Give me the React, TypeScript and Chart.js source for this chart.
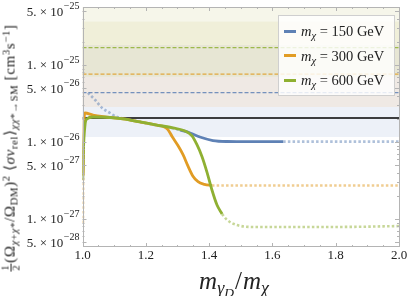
import React, { useEffect, useRef } from "react";
import { Chart, registerables } from "chart.js";
Chart.register(...registerables);

// ---- axis ranges & ticks ----
const X_MIN = 1.0;
const X_MAX = 2.0;
const Y_MIN = 4.33e-28;
const Y_MAX = 5.66e-25;

const xTicks = [1.0, 1.2, 1.4, 1.6, 1.8, 2.0];
const xTickLabels = ["1.0", "1.2", "1.4", "1.6", "1.8", "2.0"];
const xMinorTicks = [1.05, 1.1, 1.15, 1.25, 1.3, 1.35, 1.45, 1.5, 1.55, 1.65, 1.7, 1.75, 1.85, 1.9, 1.95];
const yTicks = [5e-28, 1e-27, 5e-27, 1e-26, 5e-26, 1e-25, 5e-25];
const yTickMantissa = ["5.", "1.", "5.", "1.", "5.", "1.", "5."];
const yTickExponent = ["\u221228", "\u221227", "\u221227", "\u221226", "\u221226", "\u221225", "\u221225"];
const yMinorMultipliers = [2, 3, 4, 6, 7, 8, 9];
const yDecades = [-28, -27, -26, -25];

// ---- bands (value edges, bottom to top) ----
const bandEdges = [1.16e-26, 2.85e-26, 7.0e-26, 1.82e-25, 3.7e-25, Y_MAX];

// ---- horizontal reference levels ----
const blueLevel = 4.37e-26;
const orangeLevel = 7.6e-26;
const greenLevel = 1.68e-25;
const relicLevel = 2.05e-26;

// ---- m_chi = 150 GeV ----
const blueDotStartX = [1.017, 1.04, 1.062, 1.087, 1.109, 1.141, 1.182, 1.229, 1.267, 1.308];
const blueDotStartY = [4.35e-26, 3.51e-26, 2.77e-26, 2.38e-26, 2.11e-26, 1.99e-26, 1.82e-26, 1.66e-26, 1.57e-26, 1.43e-26];
const blueSolidX = [1.308, 1.34, 1.371, 1.412, 1.457, 1.529, 1.634];
const blueSolidY = [1.43e-26, 1.31e-26, 1.16e-26, 1.045e-26, 1.015e-26, 1.01e-26, 1.01e-26];
const blueDotEndX = [1.634, 2.0];
const blueDotEndY = [1.01e-26, 1.01e-26];

// ---- m_chi = 300 GeV ----
const orangeDotStartX = [1.0015, 1.002];
const orangeDotStartY = [8.9e-28, 3.7e-27];
const orangeSolidX = [1.002, 1.004, 1.008, 1.033, 1.077, 1.128, 1.182, 1.235, 1.254, 1.27, 1.283, 1.3, 1.318, 1.333, 1.349, 1.365, 1.385, 1.409];
const orangeSolidY = [3.7e-27, 1.5e-26, 2.38e-26, 2.24e-26, 2.11e-26, 1.99e-26, 1.82e-26, 1.66e-26, 1.6e-26, 1.45e-26, 1.18e-26, 9.2e-27, 6.8e-27, 4.9e-27, 3.6e-27, 3.05e-27, 2.82e-27, 2.72e-27];
const orangeDotEndX = [1.409, 2.0];
const orangeDotEndY = [2.72e-27, 2.72e-27];

// ---- m_chi = 600 GeV ----
const greenSolidX = [1.001, 1.003, 1.008, 1.014, 1.033, 1.087, 1.128, 1.182, 1.235, 1.286, 1.324, 1.346, 1.362, 1.378, 1.393, 1.409, 1.425, 1.441];
const greenSolidY = [3.2e-27, 7.9e-27, 1.66e-26, 1.99e-26, 2.11e-26, 2.08e-26, 1.99e-26, 1.82e-26, 1.66e-26, 1.52e-26, 1.39e-26, 1.2e-26, 9.15e-27, 6.4e-27, 4.1e-27, 2.38e-27, 1.52e-27, 1.16e-27];
const greenDotX = [1.441, 1.457, 1.488, 1.539, 1.687, 1.845, 2.0];
const greenDotY = [1.16e-27, 9.7e-28, 8.36e-28, 7.87e-28, 7.87e-28, 7.9e-28, 8.1e-28];

const legendLabels = ["150", "300", "600"];

// ---- styles ----
const BLUE = "#5E81B5";
const ORANGE = "#E19C24";
const GREEN = "#8FB032";
const BLUE_FAINT = "rgba(94,129,181,0.5)";
const ORANGE_FAINT = "rgba(225,156,36,0.5)";
const GREEN_FAINT = "rgba(143,176,50,0.5)";
const bandColors = ["#edf1f8", "#efe9e4", "#e7e6d4", "#f0efd9", "#f6f6ea"];
const SERIF = '"Liberation Serif", "DejaVu Serif", serif';

const pts = (xs: number[], ys: number[]) => xs.map((x, i) => ({ x, y: ys[i] }));
const flat = (v: number) => [{ x: X_MIN, y: v }, { x: X_MAX, y: v }];

const bandsPlugin = {
  id: "bands",
  beforeDatasetsDraw(chart: any) {
    const { ctx, chartArea: a, scales } = chart;
    const y = scales.y;
    ctx.save();
    for (let i = 0; i < bandEdges.length - 1; i++) {
      const top = Math.max(y.getPixelForValue(bandEdges[i + 1]), a.top);
      const bot = Math.min(y.getPixelForValue(bandEdges[i]), a.bottom);
      ctx.fillStyle = bandColors[i];
      ctx.fillRect(a.left, top, a.right - a.left, bot - top);
    }
    ctx.restore();
  },
};

const framePlugin = {
  id: "frame",
  afterDatasetsDraw(chart: any) {
    const { ctx, chartArea: a, scales } = chart;
    const xs = scales.x;
    const ys = scales.y;
    ctx.save();
    ctx.strokeStyle = "#b4b4b4";
    ctx.lineWidth = 1;
    ctx.strokeRect(Math.round(a.left) + 0.5, Math.round(a.top) + 0.5, Math.round(a.right - a.left) - 1, Math.round(a.bottom - a.top) - 1);
    ctx.beginPath();
    const hx = (v: number, len: number) => {
      const px = Math.round(xs.getPixelForValue(v)) + 0.5;
      ctx.moveTo(px, a.bottom);
      ctx.lineTo(px, a.bottom - len);
      ctx.moveTo(px, a.top);
      ctx.lineTo(px, a.top + len);
    };
    xTicks.forEach((v) => hx(v, 4));
    xMinorTicks.forEach((v) => hx(v, 2));
    const vy = (v: number, len: number) => {
      if (v < Y_MIN || v > Y_MAX) return;
      const py = Math.round(ys.getPixelForValue(v)) + 0.5;
      ctx.moveTo(a.left, py);
      ctx.lineTo(a.left + len, py);
      ctx.moveTo(a.right, py);
      ctx.lineTo(a.right - len, py);
    };
    yTicks.forEach((v) => vy(v, 4));
    yDecades.forEach((d) => yMinorMultipliers.forEach((m) => vy(m * Math.pow(10, d), 2)));
    ctx.stroke();
    ctx.restore();
  },
  afterDraw(chart: any) {
    const { ctx, chartArea: a, scales } = chart;
    const xs = scales.x;
    const ys = scales.y;
    ctx.save();
    ctx.fillStyle = "#222";
    ctx.font = `13px ${SERIF}`;
    ctx.textAlign = "center";
    ctx.textBaseline = "middle";
    xTicks.forEach((v, i) => {
      ctx.fillText(xTickLabels[i], xs.getPixelForValue(v), a.bottom + 9);
    });
    yTicks.forEach((v, i) => {
      const py = ys.getPixelForValue(v);
      const right = a.left - 3;
      ctx.font = `10px ${SERIF}`;
      ctx.textAlign = "right";
      ctx.textBaseline = "middle";
      const ew = ctx.measureText(yTickExponent[i]).width;
      ctx.fillText(yTickExponent[i], right, py - 5);
      ctx.font = `13px ${SERIF}`;
      ctx.fillText(`${yTickMantissa[i]} \u00d7 10`, right - ew - 0.5, py + 1);
    });
    ctx.restore();
  },
};

export default function App() {
  const ref = useRef<HTMLCanvasElement | null>(null);
  useEffect(() => {
    if (!ref.current) return;
    const line = (data: any, color: string, width: number, order: number, dash: number[] = [], mono = true) => ({
      data,
      borderColor: color,
      borderWidth: width,
      borderDash: dash,
      pointRadius: 0,
      fill: false,
      order,
      borderCapStyle: "butt",
      borderJoinStyle: "round",
      cubicInterpolationMode: mono ? "monotone" : "default",
      tension: 0,
    });
    const chart = new Chart(ref.current, {
      type: "line",
      data: {
        datasets: [
          line(flat(blueLevel), "rgba(94,129,181,0.85)", 1.3, 20, [4, 2]),
          line(flat(orangeLevel), "rgba(225,156,36,0.85)", 1.3, 20, [4, 2]),
          line(flat(greenLevel), "rgba(143,176,50,0.85)", 1.3, 20, [4, 2]),
          line(flat(relicLevel), "#000", 1.3, 19),
          line(pts(blueDotStartX, blueDotStartY), BLUE_FAINT, 2.6, 10, [2.5, 2.2]),
          line(pts(blueDotEndX, blueDotEndY), BLUE_FAINT, 2.6, 10, [2.5, 2.2]),
          line(pts(blueSolidX, blueSolidY), BLUE, 2.8, 9),
          line(pts(orangeDotStartX, orangeDotStartY), ORANGE_FAINT, 2.6, 8, [2.5, 2.2], false),
          line(pts(orangeDotEndX, orangeDotEndY), ORANGE_FAINT, 2.6, 8, [2.5, 2.2]),
          line(pts(orangeSolidX, orangeSolidY), ORANGE, 2.8, 7),
          line(pts(greenDotX, greenDotY), GREEN_FAINT, 2.6, 6, [2.5, 2.2]),
          line(pts(greenSolidX, greenSolidY), GREEN, 2.8, 5),
        ] as any,
      },
      options: {
        animation: false,
        responsive: false,
        devicePixelRatio: 1,
        layout: { padding: { left: 82.5, right: 10, top: 7, bottom: 49 } },
        scales: {
          x: { type: "linear", min: X_MIN, max: X_MAX, display: false },
          y: { type: "logarithmic", min: Y_MIN, max: Y_MAX, display: false },
        },
        plugins: { legend: { display: false }, tooltip: { enabled: false } },
      },
      plugins: [bandsPlugin, framePlugin],
    });
    return () => chart.destroy();
  }, []);

  const colors = [BLUE, ORANGE, GREEN];
  const sub: React.CSSProperties = { fontSize: "0.72em", verticalAlign: "-0.3em", lineHeight: 0 };
  const sup: React.CSSProperties = { fontSize: "0.72em", verticalAlign: "0.45em", lineHeight: 0 };

  return (
    <div style={{ position: "fixed", left: 0, top: 0, width: 409, height: 296, background: "#fff", fontFamily: SERIF, color: "#222" }}>
      <canvas ref={ref} width={409} height={296} style={{ position: "absolute", left: 0, top: 0 }} />
      {/* legend */}
      <div style={{ position: "absolute", left: 278, top: 15, width: 115, height: 79, background: "rgba(255,255,255,0.82)", border: "1px solid #cfcfcf" }}>
        {legendLabels.map((lab, i) => (
          <div key={lab} style={{ position: "absolute", left: 5, top: 6 + i * 24.5, height: 18, display: "flex", alignItems: "center", whiteSpace: "nowrap", fontSize: 14.5, lineHeight: "18px" }}>
            <span style={{ display: "inline-block", width: 12, height: 3, background: colors[i], marginRight: 5 }} />
            <span>
              <i>m</i>
              <span style={sub}><i>χ</i></span> = {lab} GeV
            </span>
          </div>
        ))}
      </div>
      {/* x title */}
      <div style={{ position: "absolute", left: 234, top: 268, transform: "translateX(-50%)", fontSize: 25, lineHeight: "25px", whiteSpace: "nowrap" }}>
        <i>m</i>
        <span style={sub}>
          <i>γ</i>
          <span style={{ fontSize: "0.75em", verticalAlign: "-0.25em" }}><i>D</i></span>
        </span>
        <span style={{ margin: "0 1px" }}>/</span><i>m</i>
        <span style={sub}><i>χ</i></span>
      </div>
      {/* y title */}
      <div style={{ position: "absolute", left: 11, top: 148, transform: "translate(-50%,-50%) rotate(-90deg)", fontSize: 15, lineHeight: "15px", letterSpacing: "0.6px", whiteSpace: "nowrap" }}>
        <span style={{ display: "inline-flex", flexDirection: "column", alignItems: "center", verticalAlign: "middle", fontSize: "0.7em", lineHeight: "0.95em", marginRight: 1 }}>
          <span style={{ borderBottom: "0.6px solid #222", padding: "0 1px" }}>1</span>
          <span>2</span>
        </span>
        (Ω<span style={sub}><i>χ</i>+<i>χ</i>*</span>/Ω<span style={sub}>DM</span>)<span style={sup}>2</span>
        {" "}⟨<i>σv</i><span style={sub}>rel</span>⟩<span style={sub}><i>χχ</i>*→SM</span>{" "}[cm<span style={sup}>3</span>s<span style={sup}>−1</span>]
      </div>
    </div>
  );
}
